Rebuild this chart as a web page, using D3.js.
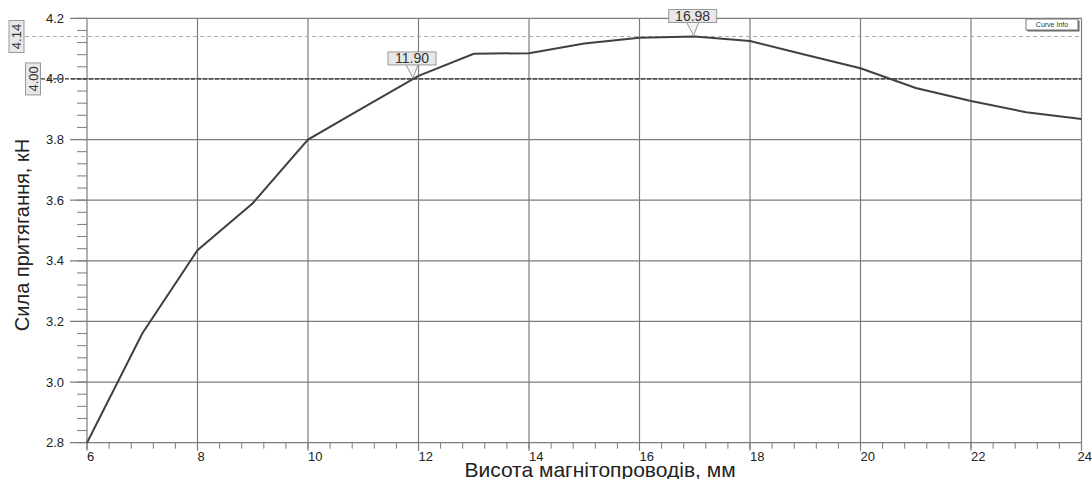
<!DOCTYPE html>
<html><head><meta charset="utf-8">
<script src="https://cdn.jsdelivr.net/npm/d3@7"></script>
<style>body{margin:0;background:#fff}svg{display:block;font-family:"Liberation Sans",Arial,sans-serif}</style>
</head><body>
<svg id="c" width="1092" height="479"></svg>
<script>
const heights = [6,7,8,9,10,11,12,13,14,15,16,17,18,19,20,21,22,23,24];
const forces = [2.80,3.16,3.435,3.59,3.80,3.905,4.01,4.083,4.085,4.117,4.136,4.14,4.125,4.08,4.035,3.97,3.927,3.89,3.868];
const xTicks = [6,8,10,12,14,16,18,20,22,24];
const yTicks = [2.8,3.0,3.2,3.4,3.6,3.8,4.0,4.2];
const yTickLabels = ["2.8","3.0","3.2","3.4","3.6","3.8","4.0","4.2"];
const xMarkers = [{x:11.90, y:4.00, label:"11.90"},{x:16.98, y:4.14, label:"16.98"}];
const yMarkers = [{y:4.14, label:"4.14"},{y:4.00, label:"4.00"}];
const xTitle = "Висота магнітопроводів, мм";
const yTitle = "Сила притягання, кН";

const svg = d3.select("#c");
const x = d3.scaleLinear().domain([6,24]).range([87,1081.5]);
const y = d3.scaleLinear().domain([2.8,4.2]).range([442.7,18.3]);
const grid = "#7c7c7c";

// minor ticks
const xMinor = d3.range(6,24.001,0.4);
svg.append("g").selectAll("line").data(xMinor).join("line")
  .attr("x1",d=>x(d)).attr("x2",d=>x(d)).attr("y1",y(2.8)).attr("y2",y(2.8)+6)
  .attr("stroke",grid).attr("stroke-width",1);
const yMinor = d3.range(2.8,4.2001,0.04);
svg.append("g").selectAll("line").data(yMinor).join("line")
  .attr("x1",x(6)-10).attr("x2",x(6)).attr("y1",d=>y(d)).attr("y2",d=>y(d))
  .attr("stroke",grid).attr("stroke-width",1);

// grid
svg.append("g").selectAll("line").data(xTicks).join("line")
  .attr("x1",d=>x(d)).attr("x2",d=>x(d)).attr("y1",y(4.2)).attr("y2",y(2.8)+8)
  .attr("stroke",grid).attr("stroke-width",1.2);
svg.append("g").selectAll("line").data(yTicks).join("line")
  .attr("x1",x(6)-17).attr("x2",x(24)).attr("y1",d=>y(d)).attr("y2",d=>y(d))
  .attr("stroke",grid).attr("stroke-width",1.2);

// tick labels
svg.append("g").selectAll("text").data(yTicks).join("text")
  .attr("x",64).attr("y",d=>y(d)).attr("dy","0.35em").attr("text-anchor","end")
  .attr("font-size",13).attr("fill","#222").text((d,i)=>yTickLabels[i]);
svg.append("g").selectAll("text").data(xTicks).join("text")
  .attr("x",d=>x(d)+(d===24?-4:0)).attr("y",461).attr("font-size",13).attr("fill","#222").text(d=>d);

// reference dashed lines
svg.append("line").attr("x1",25).attr("x2",x(24)).attr("y1",y(4.14)).attr("y2",y(4.14))
  .attr("stroke","#aaa").attr("stroke-width",1).attr("stroke-dasharray","4,3");
svg.append("line").attr("x1",41).attr("x2",x(24)).attr("y1",y(4.0)).attr("y2",y(4.0))
  .attr("stroke","#333").attr("stroke-width",1.2).attr("stroke-dasharray","4,2");

// curve
svg.append("path").datum(heights.map((h,i)=>[h,forces[i]]))
  .attr("d",d3.line().x(d=>x(d[0])).y(d=>y(d[1])))
  .attr("fill","none").attr("stroke","#404040").attr("stroke-width",2);

// y marker boxes
const ym = svg.append("g");
yMarkers.forEach((m,i)=>{
  const cx = i===0?16.5:33, cy = y(m.y);
  const g = ym.append("g").attr("transform",`translate(${cx},${cy}) rotate(-90)`);
  g.append("rect").attr("x",-16).attr("y",-7.5).attr("width",32).attr("height",15)
    .attr("fill","#e8e8e8").attr("stroke","#999");
  g.append("text").attr("text-anchor","middle").attr("dy","0.36em").attr("font-size",13)
    .attr("fill","#333").text(m.label);
});

// x marker boxes
xMarkers.forEach(m=>{
  const px = x(m.x), py = y(m.y);
  const bx = px - 1, by = py - 14;
  const g = svg.append("g");
  g.append("path").attr("d",`M${bx-6},${by} L${px},${py-1} L${bx+6},${by}`)
    .attr("fill","#f4f4f4").attr("stroke","#999");
  g.append("rect").attr("x",bx-24).attr("y",by-13).attr("width",48).attr("height",13)
    .attr("fill","#e8e8e8").attr("stroke","#999");
  g.append("text").attr("x",bx).attr("y",by-6.5).attr("dy","0.36em").attr("text-anchor","middle")
    .attr("font-size",14).attr("fill","#333").text(m.label);
});

// Curve info box
svg.append("rect").attr("x",1027.5).attr("y",20.5).attr("width",52).attr("height",11).attr("fill","#666");
svg.append("rect").attr("x",1026).attr("y",19).attr("width",52).attr("height",11).attr("fill","#fff").attr("stroke","#777");
svg.append("text").attr("x",1052).attr("y",24.5).attr("dy","0.35em").attr("text-anchor","middle")
  .attr("font-size",7).attr("fill","#333").text("Curve Info");

// titles
svg.append("text").attr("x",600).attr("y",476.5).attr("text-anchor","middle")
  .attr("font-size",21).attr("fill","#222").text(xTitle);
svg.append("text").attr("transform",`translate(29,235) rotate(-90)`).attr("text-anchor","middle")
  .attr("font-size",20).attr("fill","#222").text(yTitle);
</script>
</body></html>
